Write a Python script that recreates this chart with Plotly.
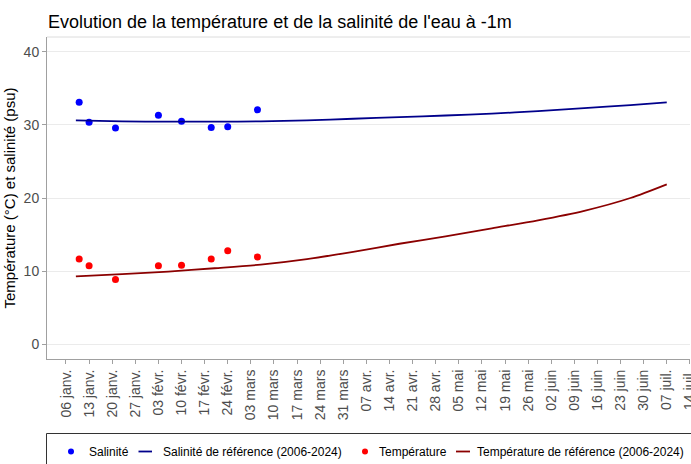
import plotly.graph_objects as go

# ---- data ----
obs_dates = ["2025-01-10", "2025-01-13", "2025-01-21", "2025-02-03",
             "2025-02-10", "2025-02-19", "2025-02-24", "2025-03-05"]
salinity = [33.1, 30.35, 29.55, 31.3, 30.5, 29.65, 29.75, 32.05]
temperature = [11.65, 10.75, 8.85, 10.75, 10.8, 11.65, 12.8, 11.95]

ref_dates = ["2025-01-09", "2025-01-23", "2025-02-06", "2025-02-20", "2025-03-06",
             "2025-03-20", "2025-04-03", "2025-04-17", "2025-05-01", "2025-05-15",
             "2025-05-29", "2025-06-12", "2025-06-26", "2025-07-07"]
salinity_ref = [30.6, 30.48, 30.43, 30.43, 30.47, 30.62, 30.83, 31.05, 31.27,
                31.52, 31.88, 32.28, 32.7, 33.06]
temperature_ref = [9.3, 9.6, 9.95, 10.4, 10.9, 11.65, 12.65, 13.75, 14.75,
                   15.85, 16.95, 18.25, 20.0, 21.87]

tick_dates = ["2025-01-06", "2025-01-13", "2025-01-20", "2025-01-27", "2025-02-03",
              "2025-02-10", "2025-02-17", "2025-02-24", "2025-03-03", "2025-03-10",
              "2025-03-17", "2025-03-24", "2025-03-31", "2025-04-07", "2025-04-14",
              "2025-04-21", "2025-04-28", "2025-05-05", "2025-05-12", "2025-05-19",
              "2025-05-26", "2025-06-02", "2025-06-09", "2025-06-16", "2025-06-23",
              "2025-06-30", "2025-07-07", "2025-07-14"]
tick_labels = ["06 janv.", "13 janv.", "20 janv.", "27 janv.", "03 févr.", "10 févr.",
               "17 févr.", "24 févr.", "03 mars", "10 mars", "17 mars", "24 mars",
               "31 mars", "07 avr.", "14 avr.", "21 avr.", "28 avr.", "05 mai",
               "12 mai", "19 mai", "26 mai", "02 juin", "09 juin", "16 juin",
               "23 juin", "30 juin", "07 juil.", "14 juil."]

legend_labels = ["Salinité", "Salinité de référence (2006-2024)",
                 "Température", "Température de référence (2006-2024)"]

SAL_PT = "#0000FF"
SAL_LN = "#00008B"
TMP_PT = "#FF0000"
TMP_LN = "#8B0000"
FONT = "Liberation Sans, Arial, sans-serif"

W, H = 691, 464
ML, MR, MT, MB = 47, 1, 37, 105
PW, PH = W - ML - MR, H - MT - MB


def px(x):
    return (x - ML) / PW


def py(y):
    return (H - MB - y) / PH


fig = go.Figure()
fig.add_trace(go.Scatter(x=obs_dates, y=salinity, mode="markers",
                         marker=dict(color=SAL_PT, size=7), name=legend_labels[0],
                         showlegend=False))
fig.add_trace(go.Scatter(x=ref_dates, y=salinity_ref, mode="lines",
                         line=dict(color=SAL_LN, width=1.8, shape="spline", smoothing=0.8),
                         name=legend_labels[1], showlegend=False))
fig.add_trace(go.Scatter(x=obs_dates, y=temperature, mode="markers",
                         marker=dict(color=TMP_PT, size=7), name=legend_labels[2],
                         showlegend=False))
fig.add_trace(go.Scatter(x=ref_dates, y=temperature_ref, mode="lines",
                         line=dict(color=TMP_LN, width=1.8, shape="spline", smoothing=0.8),
                         name=legend_labels[3], showlegend=False))

shapes = [
    # top panel border
    dict(type="line", xref="paper", yref="paper", x0=0, x1=1, y0=1, y1=1,
         line=dict(color="#DCDCDC", width=1)),
    # legend box
    dict(type="rect", xref="paper", yref="paper", x0=px(46.5), x1=px(720),
         y0=py(433.5), y1=py(480), line=dict(color="#333333", width=1),
         fillcolor="white", layer="below"),
]
ly = py(451.5)
# legend symbols
for cx, col in [(71, SAL_PT), (365, TMP_PT)]:
    shapes.append(dict(type="circle", xref="paper", yref="paper",
                       xsizemode="pixel", ysizemode="pixel",
                       xanchor=px(cx), yanchor=ly, x0=-3, x1=3, y0=-3, y1=3,
                       fillcolor=col, line=dict(color=col, width=0)))
for x0, x1, col in [(138.5, 152, SAL_LN), (456, 470, TMP_LN)]:
    shapes.append(dict(type="line", xref="paper", yref="paper",
                       x0=px(x0), x1=px(x1), y0=ly, y1=ly,
                       line=dict(color=col, width=1.8)))

annotations = []
for xs, txt in zip([88, 162, 378, 476], legend_labels):
    annotations.append(dict(xref="paper", yref="paper", x=px(xs), y=ly,
                            xanchor="left", yanchor="middle", showarrow=False,
                            text=txt, font=dict(family=FONT, size=12, color="black"),
                            borderpad=0))

fig.update_layout(
    width=W, height=H,
    margin=dict(l=ML, r=MR, t=MT, b=MB, autoexpand=False),
    paper_bgcolor="white", plot_bgcolor="white",
    font=dict(family=FONT),
    title=dict(text="Evolution de la température et de la salinité de l'eau à -1m",
               x=px(48), xref="paper", xanchor="left",
               y=1 - 21.5 / H, yref="container", yanchor="middle",
               font=dict(family=FONT, size=18, color="black")),
    showlegend=False,
    shapes=shapes,
    annotations=annotations,
    xaxis=dict(type="date", range=["2024-12-31 06:00", "2025-07-14 01:00"],
               automargin=False, ticklabeloverflow="allow",
               tickmode="array", tickvals=tick_dates, ticktext=tick_labels,
               tickangle=-90, tickfont=dict(family=FONT, size=14, color="#4D4D4D"),
               showgrid=False, zeroline=False,
               showline=True, linecolor="#A0A0A0", linewidth=1,
               ticks="outside", ticklen=4, tickcolor="#A0A0A0", tickwidth=1),
    yaxis=dict(range=[-2, 42], tickmode="array", tickvals=[0, 10, 20, 30, 40],
               automargin=False,
               tickfont=dict(family=FONT, size=14, color="#4D4D4D"),
               showgrid=True, gridcolor="#EBEBEB", gridwidth=1, zeroline=False,
               showline=True, linecolor="#A0A0A0", linewidth=1,
               ticks="outside", ticklen=4, tickcolor="#A0A0A0", tickwidth=1,
               title=dict(text="Température (°C) et salinité (psu)",
                          font=dict(family=FONT, size=15, color="black"),
                          standoff=4)),
)

fig.write_html("out.html",
               config={"displayModeBar": False},
               post_script="document.body.style.margin='0';document.body.style.padding='0';")
